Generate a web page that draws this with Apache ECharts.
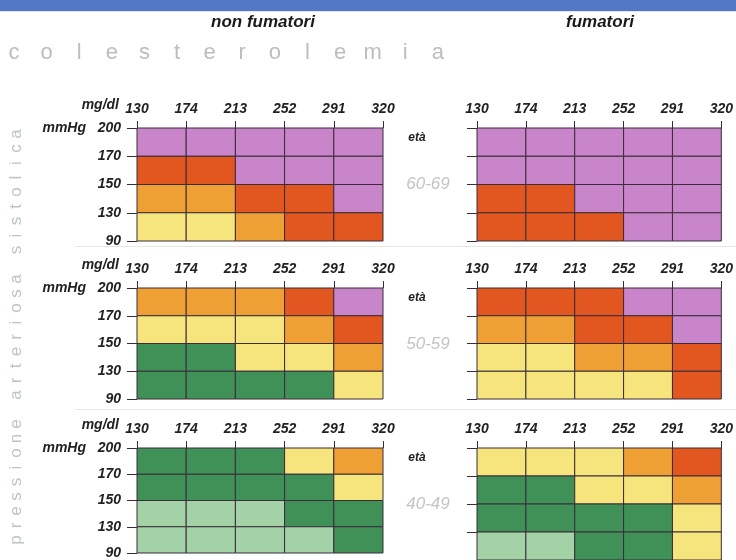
<!DOCTYPE html>
<html><head><meta charset="utf-8">
<script src="https://cdn.jsdelivr.net/npm/echarts@6/dist/echarts.min.js"></script>
<style>html,body{margin:0;padding:0;background:#fff}#c{width:736px;height:560px}</style>
</head><body><div id="c"></div>
<script>
// Tick labels
const cholTicks = ['130','174','213','252','291','320'];
const pressTicks = ['90','130','150','170','200'];
// Risk levels: 0 light green, 1 dark green, 2 yellow, 3 orange, 4 red, 5 purple
// Rows listed top (170-200) to bottom (90-130), columns 130-174 ... 291-320
const non6069 = [[5,5,5,5,5],[4,4,5,5,5],[3,3,4,4,5],[2,2,3,4,4]];
const smk6069 = [[5,5,5,5,5],[5,5,5,5,5],[4,4,5,5,5],[4,4,4,5,5]];
const non5059 = [[3,3,3,4,5],[2,2,2,3,4],[1,1,2,2,3],[1,1,1,1,2]];
const smk5059 = [[4,4,4,5,5],[3,3,4,4,5],[2,2,3,3,4],[2,2,2,2,4]];
const non4049 = [[1,1,1,2,3],[1,1,1,1,2],[0,0,0,1,1],[0,0,0,0,1]];
const smk4049 = [[2,2,2,3,4],[1,1,2,2,3],[1,1,1,1,2],[0,0,1,1,2]];
const ageGroups = ['60-69','50-59','40-49'];

const palette = ['#a2d2a6','#3f9157','#f6e47d','#efa035','#e2561f','#c985c9'];
const lineCol = '#3a2c3a';
const FONT = 'Liberation Sans';

function toData(m){
  const out=[];
  m.forEach((row,ri)=>row.forEach((v,ci)=>out.push([ci, 3-ri, v])));
  return out;
}
const panels = [
  {m:non6069, left:true, row:0},{m:smk6069, left:false, row:0},
  {m:non5059, left:true, row:1},{m:smk5059, left:false, row:1},
  {m:non4049, left:true, row:2},{m:smk4049, left:false, row:2}
];
const tops = [128, 288, 448];
const heights = [113, 111, 112];

const grids=[], xAxes=[], yAxes=[], series=[];
panels.forEach((p,i)=>{
  grids.push({left: p.left?137:477, width:p.left?246:247, top:tops[p.row], height:heights[p.row]});
  xAxes.push({type:'value', gridIndex:i, min:0, max:5, interval:1, position:'top',
    axisLine:{show:false, onZero:false}, splitLine:{show:false},
    axisTick:{show:true, length:7, lineStyle:{color:lineCol, width:1}},
    axisLabel:{show:true, margin:12, formatter:v=>cholTicks[v], color:'#222',
      fontFamily:FONT, fontStyle:'italic', fontWeight:'bold', fontSize:14}});
  yAxes.push({type:'value', gridIndex:i, min:0, max:4, interval:1,
    axisLine:{show:false, onZero:false}, splitLine:{show:false},
    axisTick:{show:true, length:10, lineStyle:{color:lineCol, width:1}},
    axisLabel:{show:p.left, margin:16, formatter:v=>pressTicks[v], color:'#222',
      fontFamily:FONT, fontStyle:'italic', fontWeight:'bold', fontSize:14}});
  series.push({type:'custom', xAxisIndex:i, yAxisIndex:i, data:toData(p.m), clip:false,
    renderItem:function(params, api){
      const c=api.value(0), r=api.value(1), lv=api.value(2);
      const a=api.coord([c, r+1]), b=api.coord([c+1, r]);
      return {type:'rect', shape:{x:a[0], y:a[1], width:b[0]-a[0], height:b[1]-a[1]},
        style:{fill:palette[lv], stroke:lineCol, lineWidth:1}};
    }});
});

const graphic = [];
graphic.push({type:'rect', shape:{x:0,y:0,width:736,height:11}, style:{fill:'#5279c6'}});
graphic.push({type:'rect', shape:{x:0,y:11,width:736,height:1}, style:{fill:'#dfe4ee'}});
graphic.push({type:'text', x:263, y:22, style:{text:'non fumatori', font:'italic bold 17px "'+FONT+'"', fill:'#1a1a1a', textAlign:'center', textVerticalAlign:'middle'}});
graphic.push({type:'text', x:600, y:22, style:{text:'fumatori', font:'italic bold 17px "'+FONT+'"', fill:'#1a1a1a', textAlign:'center', textVerticalAlign:'middle'}});
'colesterolemia'.split('').forEach((ch,i)=>{
  graphic.push({type:'text', x:14+i*32.6, y:53, style:{text:ch, font:'22px "'+FONT+'"', fill:'#bdbdbd', textAlign:'center', textVerticalAlign:'middle'}});
});
'pressione arteriosa sistolica'.split('').forEach((ch,i)=>{
  if(ch===' ') return;
  graphic.push({type:'text', x:16, y:540-i*14.5, rotation:Math.PI/2, style:{text:ch, font:'17px "'+FONT+'"', fill:'#bac4cc', textAlign:'center', textVerticalAlign:'middle'}});
});
tops.forEach((t,k)=>{
  graphic.push({type:'text', x:119, y:t-23, style:{text:'mg/dl', font:'italic bold 14px "'+FONT+'"', fill:'#222', textAlign:'right', textVerticalAlign:'middle'}});
  graphic.push({type:'text', x:86, y:t, style:{text:'mmHg', font:'italic bold 14px "'+FONT+'"', fill:'#222', textAlign:'right', textVerticalAlign:'middle'}});
  graphic.push({type:'text', x:417, y:t+10, style:{text:'età', font:'italic bold 12px "'+FONT+'"', fill:'#222', textAlign:'center', textVerticalAlign:'middle'}});
  graphic.push({type:'text', x:428, y:t+56, style:{text:ageGroups[k], font:'italic 17px "'+FONT+'"', fill:'#c4c4c4', textAlign:'center', textVerticalAlign:'middle'}});
  if(k<2) graphic.push({type:'rect', shape:{x:75, y:t+118+(k===1?3:0), width:661, height:1}, style:{fill:'#e6e6e6'}});
});

const chart = echarts.init(document.getElementById('c'), null, {renderer:'canvas'});
chart.setOption({animation:false, backgroundColor:'#ffffff', grid:grids, xAxis:xAxes, yAxis:yAxes, series:series, graphic:graphic});
</script></body></html>
